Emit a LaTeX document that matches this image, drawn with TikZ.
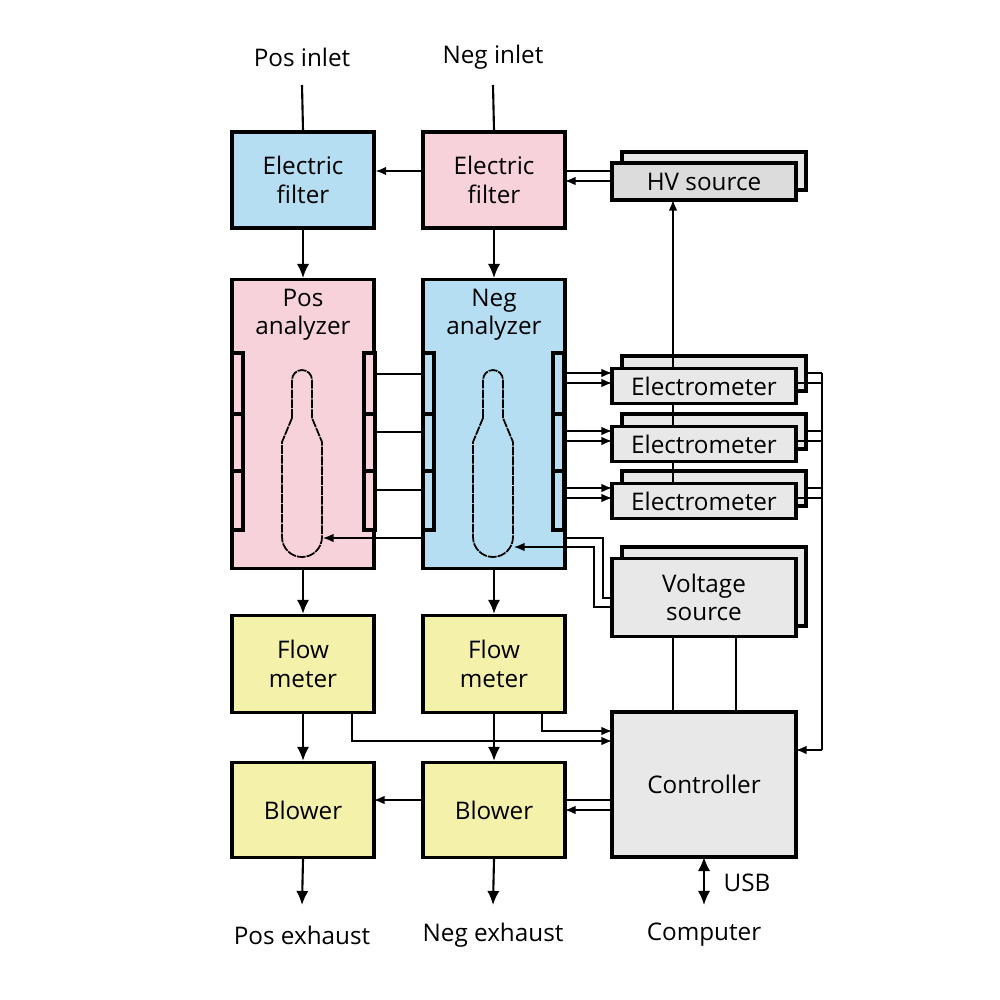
\documentclass[tikz,border=0pt]{standalone}
\usepackage{fontspec}
\setmainfont{Open Sans}
\usetikzlibrary{arrows.meta}
\definecolor{pk}{HTML}{F8D2DA}
\definecolor{bl}{HTML}{B5DEF3}
\definecolor{yl}{HTML}{F3F1AA}
\definecolor{gy}{HTML}{E8E8E8}
\definecolor{gd}{HTML}{DCDCDC}
\begin{document}
\begin{tikzpicture}[x=0.01cm,y=-0.01cm,
  box/.style={draw,line width=0.9pt,inner sep=0pt,align=center,font=\fontsize{6.9}{8.1}\selectfont},
  lbl/.style={font=\fontsize{6.9}{8.1}\selectfont},
  w/.style={line width=0.35pt},
  a/.style={w,-{Latex[length=3pt,width=2.4pt]}},
  ba/.style={line width=0.6pt,-{Latex[length=4pt,width=3.5pt]}},
  bottle/.style={line width=0.5pt,dash pattern=on 2.5pt off 0.3pt}]
\useasboundingbox (0,0) rectangle (1000,1000);
% labels
\node[lbl] (pin) at (302,57) {Pos inlet};
\node[lbl] (nin) at (493,57) {Neg inlet};
\node[lbl] (pex) at (302,935) {Pos exhaust};
\node[lbl] (nex) at (493,935) {Neg exhaust};
\node[lbl] (comp) at (704,935) {Computer};
\node[lbl] (usb) at (747,883) {USB};
% filters
\node[box,fill=bl,minimum width=1.42cm,minimum height=0.96cm] (pef) at (303,180) {Electric\\filter};
\node[box,fill=pk,minimum width=1.42cm,minimum height=0.96cm] (nef) at (494,180) {Electric\\filter};
% HV source
\draw[line width=0.9pt,fill=gy] (622,152) rectangle (806,190);
\node[box,fill=gd,minimum width=1.84cm,minimum height=0.37cm] (hv) at (704,181.5) {HV source};
% analyzers
\node[box,fill=pk,minimum width=1.42cm,minimum height=2.89cm,anchor=north] (pan) at (303,278) {};
\node[box,fill=bl,minimum width=1.42cm,minimum height=2.89cm,anchor=north] (nan) at (494,278) {};
\node[lbl,align=center] (pant) at (303,315) {Pos\\analyzer};
\node[lbl,align=center] (nant) at (494,315) {Neg\\analyzer};
% electrodes
\foreach \x/\c in {232/pk,364/pk,423/bl,553/bl}{
  \draw[line width=0.9pt,fill=\c] (\x,353) rectangle (\x+11,530);
  \draw[line width=0.9pt] (\x,414) -- (\x+11,414) (\x,471) -- (\x+11,471);
}
% bottles
\foreach \cx in {302,493}{
  \draw[bottle] (\cx-10,418) -- (\cx-10,380) arc[start angle=180,end angle=360,radius=10] -- (\cx+10,418)
    -- (\cx+20,442) -- (\cx+20,537) arc[start angle=0,end angle=180,radius=20] -- (\cx-20,442) -- cycle;
}
% electrometers
\foreach \n/\y in {1/367,2/425,3/482}{
  \draw[line width=0.9pt,fill=gy] (622,\y-11) rectangle (806,\y+24);
  \node[box,fill=gy,minimum width=1.84cm,minimum height=0.35cm,anchor=north] (em\n) at (704,\y) {Electrometer};
  \draw[a] (565,\y+6) -- (612,\y+6);
  \draw[a] (565,\y+16) -- (612,\y+16);
  \draw[w] (806,\y+6) -- (822,\y+6);
  \draw[w] (796,\y+16) -- (822,\y+16);
}
\draw[w] (822,373) -- (822,750);
% voltage source
\draw[line width=0.9pt,fill=gy] (622,547) rectangle (806,626);
\node[box,fill=gy,minimum width=1.84cm,minimum height=0.78cm,anchor=north] (vs) at (704,557) {Voltage\\source};
% flow meters, blowers, controller
\node[box,fill=yl,minimum width=1.42cm,minimum height=0.97cm] (pfm) at (303,664) {Flow\\meter};
\node[box,fill=yl,minimum width=1.42cm,minimum height=0.97cm] (nfm) at (494,664) {Flow\\meter};
\node[box,fill=yl,minimum width=1.42cm,minimum height=0.95cm] (pbl) at (303,810) {Blower};
\node[box,fill=yl,minimum width=1.42cm,minimum height=0.95cm] (nbl) at (494,810) {Blower};
\node[box,fill=gy,minimum width=1.84cm,minimum height=1.45cm] (ctl) at (704,784.5) {Controller};
% vertical flow
\draw[w,line width=0.6pt] (302,85) -- (pef.north);
\draw[w,line width=0.6pt] (493,85) -- (nef.north);
\draw[ba] (pef.south) -- (pan.north);
\draw[ba] (nef.south) -- (nan.north);
\draw[ba] (pan.south) -- (pfm.north);
\draw[ba] (nan.south) -- (nfm.north);
\draw[ba] (pfm.south) -- (pbl.north);
\draw[ba] (nfm.south) -- (nbl.north);
\draw[ba] (pbl.south) -- (302,905);
\draw[ba] (nbl.south) -- (493,905);
\draw[ba,{Latex[length=4pt,width=3.5pt]}-{Latex[length=4pt,width=3.5pt]}] (704,857) -- (704,905);
% HV and filters
\draw[a] (nef.west |- 0,171) -- (pef.east |- 0,171);
\draw[w] (612,171) -- (565,171);
\draw[a] (612,181) -- (565,181);
\draw[a] (673,367) -- (673,200);
\draw[w] (673,402) -- (673,425) (673,460) -- (673,482);
% analyzer interconnects
\foreach \y in {374,432,490} \draw[w] (375,\y) -- (423,\y);
\draw[a] (423,538) -- (323,538);
\draw[w] (565,538) -- (603,538) -- (603,598) -- (612,598);
\draw[a] (612,607) -- (594,607) -- (594,547) -- (514,547);
% voltage source to controller
\draw[w] (673,635) -- (673,712) (736,635) -- (736,712);
% flow meters to controller
\draw[a] (352,712) -- (352,741) -- (612,741);
\draw[a] (542,712) -- (542,731) -- (612,731);
\draw[a] (822,750) -- (796,750);
% controller to blowers
\draw[w] (612,800) -- (565,800);
\draw[a] (612,810) -- (565,810);
\draw[a] (423,800) -- (374,800);
\end{tikzpicture}
\end{document}
